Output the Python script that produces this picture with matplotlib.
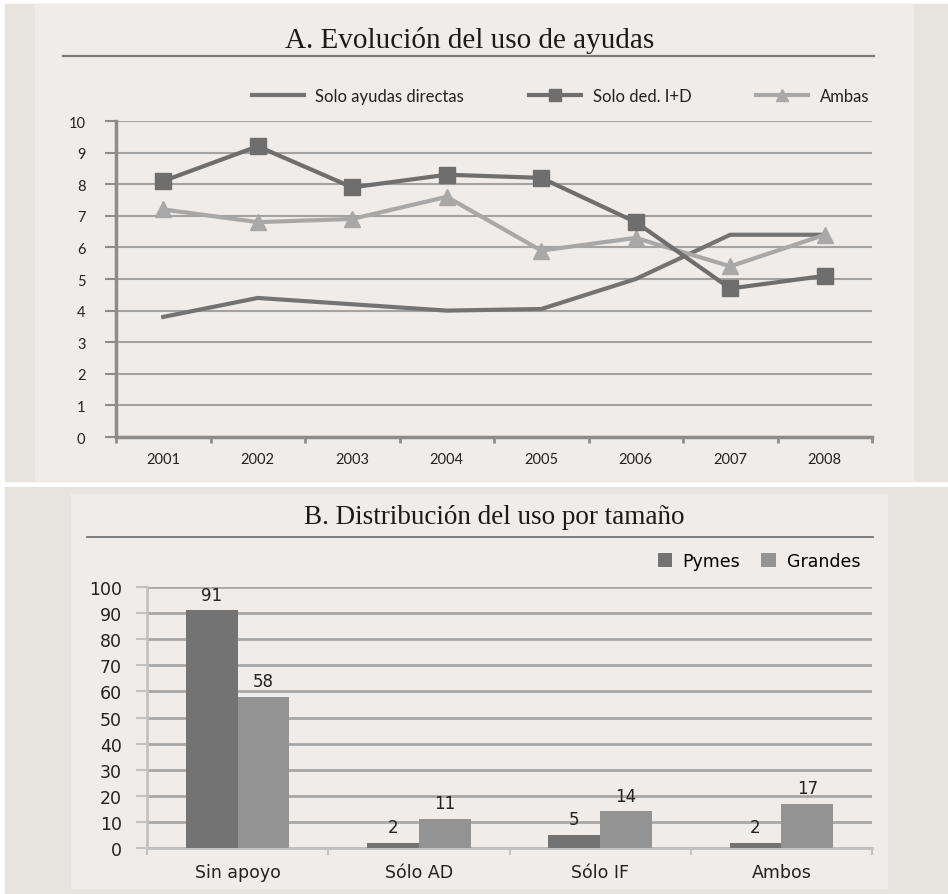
import matplotlib.pyplot as plt
from matplotlib.patches import Rectangle
from matplotlib.lines import Line2D
import numpy as np

# --- data ---
years = ["2001", "2002", "2003", "2004", "2005", "2006", "2007", "2008"]
solo_directas = [3.8, 4.4, 4.2, 4.0, 4.05, 5.0, 6.4, 6.4]
solo_ded = [8.1, 9.2, 7.9, 8.3, 8.2, 6.8, 4.7, 5.1]
ambas = [7.2, 6.8, 6.9, 7.6, 5.9, 6.3, 5.4, 6.4]

categorias = ["Sin apoyo", "Sólo AD", "Sólo IF", "Ambos"]
pymes = [91, 2, 5, 2]
grandes = [58, 11, 14, 17]

W, H = 948, 895
fig = plt.figure(figsize=(W / 100, H / 100), dpi=100)
fig.patch.set_facecolor("white")

outer = "#e7e4e0"
inner = "#efecea"


def px_rect(x0, y0, x1, y1, color):
    fig.patches.append(Rectangle((x0 / W, 1 - y1 / H), (x1 - x0) / W, (y1 - y0) / H,
                                 transform=fig.transFigure, color=color, zorder=-10))


def px_line(x0, x1, y, color, lw):
    fig.lines.append(Line2D([x0 / W, x1 / W], [1 - y / H, 1 - y / H],
                            transform=fig.transFigure, color=color, lw=lw))


# panel backgrounds
px_rect(5, 5, 948, 482, outer)
px_rect(35, 5, 913, 481, inner)
px_rect(5, 488, 948, 895, outer)
px_rect(71, 495, 887, 889, inner)

# ---------------- A. line chart ----------------
fig.text(470 / W, 1 - 40 / H, "A. Evolución del uso de ayudas", family="Liberation Serif",
         fontsize=21, ha="center", va="center", color="#1a1a1a")
px_line(63, 874, 57, "#7a7a7a", 1.6)

ax1 = fig.add_axes([116 / W, 1 - 438 / H, (872 - 116) / W, (438 - 122) / H])
ax1.set_facecolor("none")
x = np.arange(len(years)) + 0.5
ax1.plot(x, solo_directas, color="#737373", lw=3, label="Solo ayudas directas", zorder=3)
ax1.plot(x, solo_ded, color="#6e6e6e", lw=3, marker="s", ms=11, label="Solo ded. I+D", zorder=4)
ax1.plot(x, ambas, color="#a8a8a8", lw=3, marker="^", ms=11, label="Ambas", zorder=3)
ax1.set_xlim(0, len(years))
ax1.set_ylim(0, 10)
ax1.set_yticks(range(0, 11))
ax1.set_xticks(range(0, len(years) + 1))
ax1.set_xticklabels([])
ax1.set_xticks(x, minor=True)
ax1.set_xticklabels(years, minor=True, fontsize=10.5, family="Lato", color="#222222")
ax1.tick_params(axis="x", which="minor", length=0, pad=11)
ax1.tick_params(axis="x", which="major", length=4, width=2, color="#8c8c8c")
ax1.tick_params(axis="y", length=8, width=1.5, color="#8c8c8c", pad=14,
                labelsize=10.5, labelcolor="#222222")
for lab in ax1.get_yticklabels():
    lab.set_family("Lato")
ax1.grid(axis="y", color="#a3a3a3", lw=1.5, zorder=0)
ax1.set_axisbelow(True)
for s in ["top", "right"]:
    ax1.spines[s].set_visible(False)
for s in ["left", "bottom"]:
    ax1.spines[s].set_color("#8c8c8c")
    ax1.spines[s].set_linewidth(2.5)
leg1 = ax1.legend(ncol=3, loc="center", bbox_to_anchor=(0.588, 1.079), frameon=False,
                  prop={"family": "Lato", "size": 12}, handlelength=3.1,
                  handletextpad=0.7, columnspacing=3.9, markerscale=0.8)
for t in leg1.get_texts():
    t.set_color("#222222")

# ---------------- B. bar chart ----------------
fig.text(494 / W, 1 - 518 / H, "B. Distribución del uso por tamaño", family="Liberation Serif",
         fontsize=19.5, ha="center", va="center", color="#1a1a1a")
px_line(87, 873, 538, "#6a6a6a", 1.2)

ax2 = fig.add_axes([147 / W, 1 - 849 / H, (872 - 147) / W, (849 - 588) / H])
ax2.set_facecolor("none")
xc = np.arange(len(categorias)) + 0.5
bw = 0.285
b1 = ax2.bar(xc - bw / 2, pymes, bw, color="#737373", label="Pymes", zorder=3)
b2 = ax2.bar(xc + bw / 2, grandes, bw, color="#939393", label="Grandes", zorder=3)
ax2.bar_label(b1, padding=5, fontsize=12, color="#222222")
ax2.bar_label(b2, padding=5, fontsize=12, color="#222222")
ax2.set_xlim(0, len(categorias))
ax2.set_ylim(0, 100)
ax2.set_yticks(range(0, 101, 10))
ax2.set_xticks(range(0, len(categorias) + 1))
ax2.set_xticklabels([])
ax2.set_xticks(xc, minor=True)
ax2.set_xticklabels(categorias, minor=True, fontsize=12.5, color="#222222")
ax2.tick_params(axis="x", which="minor", length=0, pad=11)
ax2.tick_params(axis="x", which="major", length=5, width=1.5, color="#c2c2c2")
ax2.tick_params(axis="y", length=8, width=1.5, color="#c2c2c2", pad=10,
                labelsize=12.5, labelcolor="#222222")
ax2.grid(axis="y", color="#a8a8a8", lw=2, zorder=0)
ax2.set_axisbelow(True)
for s in ["top", "right"]:
    ax2.spines[s].set_visible(False)
for s in ["left", "bottom"]:
    ax2.spines[s].set_color("#c2c2c2")
    ax2.spines[s].set_linewidth(2)
leg2 = ax2.legend(ncol=2, loc="center right", bbox_to_anchor=(1.005, 1.098), frameon=False,
                  fontsize=12.5, handlelength=0.85, handleheight=0.85,
                  handletextpad=0.6, columnspacing=1.2)

fig.savefig("out.png", dpi=100)
